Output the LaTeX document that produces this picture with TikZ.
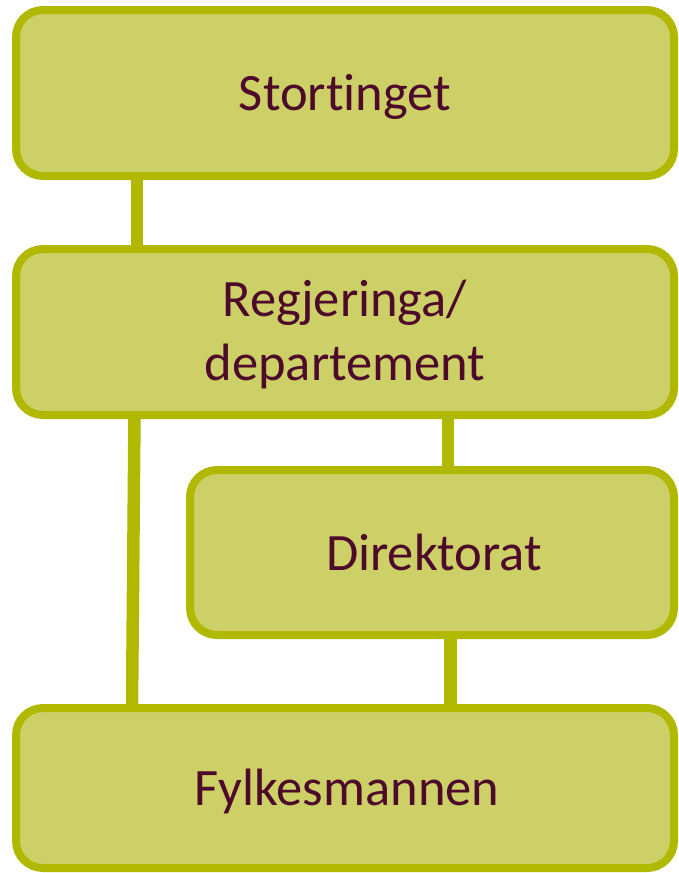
\documentclass[tikz,border=0pt]{standalone}
\usepackage{fontspec}
\setmainfont{Carlito}[Ligatures=NoCommon]
\usetikzlibrary{backgrounds}
\definecolor{boxfill}{HTML}{CCD066}
\definecolor{boxline}{HTML}{B0B900}
\definecolor{txt}{HTML}{4D0A2B}
\begin{document}
\begin{tikzpicture}[x=1pt,y=-1pt,
  orgbox/.style={draw=boxline, fill=boxfill, line width=8pt, rounded corners=27pt,
    rectangle, inner sep=0pt, outer sep=0pt},
  lbl/.style={text=txt, font=\fontsize{52.5}{63.5}\selectfont, inner sep=0pt, align=center},
  conn/.style={draw=boxline, line width=12.5pt}]
\useasboundingbox (0,0) rectangle (678,873);
\node[orgbox, minimum width=658pt, minimum height=166pt] (sto) at (345,93) {};
\node[orgbox, minimum width=658pt, minimum height=166pt] (reg) at (345,332) {};
\node[orgbox, minimum width=484pt, minimum height=165pt] (dir) at (432,552.5) {};
\node[orgbox, minimum width=658pt, minimum height=160pt] (fyl) at (345,788) {};
\node[lbl, anchor=base] (tsto) at ([yshift=-17.7pt]sto.center) {Stortinget};
\node[lbl, anchor=base] (treg1) at ([yshift=15.3pt]reg.center) {Regjeringa/};
\node[lbl, anchor=base] (treg2) at ([yshift=-48pt]reg.center) {departement};
\node[lbl, anchor=base] (tdir) at ([yshift=-18pt,xshift=2pt]dir.center) {Direktorat};
\node[lbl, anchor=base] (tfyl) at ([yshift=-17pt,xshift=2pt]fyl.center) {Fylkesmannen};
\begin{scope}[on background layer]
\draw[conn] ([xshift=121pt]sto.south west) -- ([xshift=121pt]reg.north west);
\draw[conn] ([xshift=118.5pt]reg.south west) -- ([xshift=116pt]fyl.north west);
\draw[conn] ([xshift=258pt]dir.north west) -- ([xshift=258pt]dir.north west |- reg.south);
\draw[conn] ([xshift=260.5pt]dir.south west) -- ([xshift=260.5pt]dir.south west |- fyl.north);
\end{scope}
\end{tikzpicture}
\end{document}
